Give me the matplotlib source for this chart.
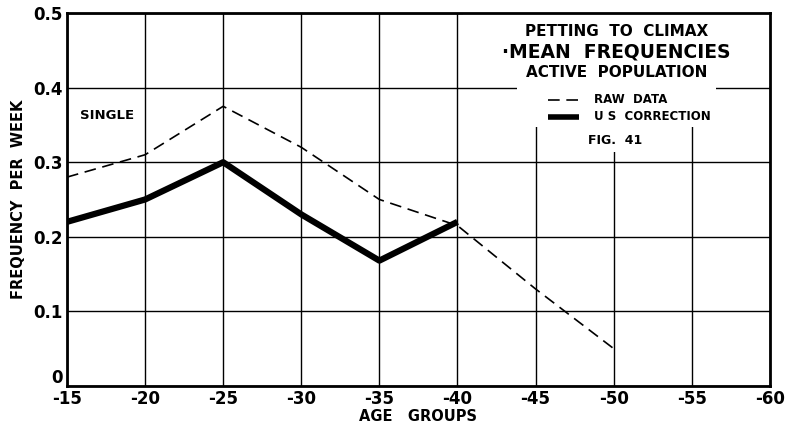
import matplotlib
matplotlib.use("Agg")
import matplotlib.pyplot as plt
from matplotlib.patches import Rectangle
from matplotlib.lines import Line2D
import matplotlib.transforms as mtransforms

# age groups (upper bound of each group) and weekly frequencies
ages = [15, 20, 25, 30, 35, 40, 45, 50]
raw_data = [0.28, 0.31, 0.375, 0.32, 0.25, 0.215, 0.13, 0.05]
us_ages = [15, 20, 25, 30, 35, 40]
us_correction = [0.22, 0.25, 0.30, 0.23, 0.168, 0.22]

xticks = [15, 20, 25, 30, 35, 40, 45, 50, 55, 60]
xtick_labels = ["-15", "-20", "-25", "-30", "-35", "-40", "-45", "-50", "-55", "-60"]
yticks = [0, 0.1, 0.2, 0.3, 0.4, 0.5]
ytick_labels = ["0", "0.1", "0.2", "0.3", "0.4", "0.5"]

plt.rcParams['font.family'] = ['DejaVu Sans']
plt.rcParams['font.weight'] = 'bold'
plt.rcParams['axes.labelweight'] = 'bold'

fig = plt.figure(figsize=(7.88, 4.37), dpi=100)
ax = fig.add_axes([0.085, 0.117, 0.892, 0.853])

ax.plot(ages, raw_data, color="black", lw=1.2, dashes=(7, 4), zorder=3)
ax.plot(us_ages, us_correction, color="black", lw=4.5, solid_capstyle="butt", zorder=3)

ax.set_xlim(15, 60)
ax.set_ylim(0, 0.5)
ax.set_xticks(xticks)
ax.set_xticklabels(xtick_labels, fontsize=12)
ax.set_yticks(yticks)
ax.set_yticklabels(ytick_labels, fontsize=12)
ax.tick_params(length=0, pad=3)
ax.set_axisbelow(True)
ax.grid(True, color="black", lw=1.0)
for s in ax.spines.values():
    s.set_linewidth(2)

# lift the "0" label clear of the "-15" below it
zero_lbl = ax.get_yticklabels()[0]
zero_lbl.set_transform(zero_lbl.get_transform() +
                       mtransforms.ScaledTranslation(0, 7 / 72, fig.dpi_scale_trans))

ax.set_xlabel("AGE   GROUPS", fontsize=10.5, labelpad=1)
ax.set_ylabel("FREQUENCY  PER  WEEK", fontsize=10.5, labelpad=5)

# white panel behind the title block
for x0, y0, w, h in [(0.563, 0.805, 0.437, 0.195),
                     (0.64, 0.694, 0.283, 0.115),
                     (0.75, 0.627, 0.05, 0.07)]:
    ax.add_patch(Rectangle((x0, y0), w, h, transform=ax.transAxes,
                           facecolor="white", edgecolor="none", zorder=1))

ax.text(0.782, 0.950, "PETTING  TO  CLIMAX", transform=ax.transAxes,
        ha="center", va="center", fontsize=11)
ax.text(0.782, 0.896, "·MEAN  FREQUENCIES", transform=ax.transAxes,
        ha="center", va="center", fontsize=13.5)
ax.text(0.782, 0.842, "ACTIVE  POPULATION", transform=ax.transAxes,
        ha="center", va="center", fontsize=11)

# hand-drawn style legend
ax.add_line(Line2D([0.684, 0.728], [0.767, 0.767], transform=ax.transAxes,
                   color="black", lw=1.2, dashes=(7, 4)))
ax.add_line(Line2D([0.684, 0.728], [0.722, 0.722], transform=ax.transAxes,
                   color="black", lw=4, solid_capstyle="butt"))
ax.text(0.750, 0.767, "RAW  DATA", transform=ax.transAxes,
        ha="left", va="center", fontsize=8.5)
ax.text(0.750, 0.722, "U S  CORRECTION", transform=ax.transAxes,
        ha="left", va="center", fontsize=8.5)
ax.text(0.78, 0.657, "FIG.  41", transform=ax.transAxes,
        ha="center", va="center", fontsize=9)

ax.text(0.018, 0.724, "SINGLE", transform=ax.transAxes,
        ha="left", va="center", fontsize=9.5)

fig.savefig("out.png", dpi=100)
